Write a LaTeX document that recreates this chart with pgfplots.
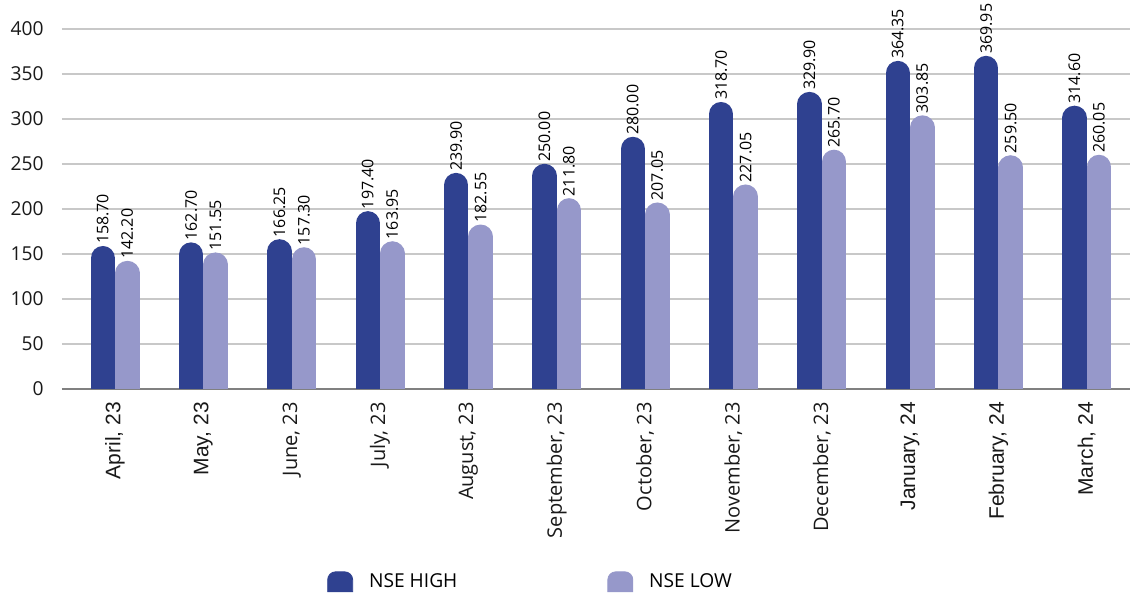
\documentclass[border=0pt]{standalone}
\usepackage{fontspec}
\setmainfont{Open Sans}
\newfontfamily\arlf{Liberation Sans}
\newcommand\arl{\arlf\fontsize{10.5}{12}\selectfont}
\usepackage{pgfplots}
\pgfplotsset{compat=1.18}
\usepackage{pgfplotstable}
\definecolor{hi}{RGB}{47,65,144}
\definecolor{lo}{RGB}{150,152,202}
\definecolor{gridc}{RGB}{200,200,200}
\pgfplotstableread{
x high low
0 158.70 142.20
1 162.70 151.55
2 166.25 157.30
3 197.40 163.95
4 239.90 182.55
5 250.00 211.80
6 280.00 207.05
7 318.70 227.05
8 329.90 265.70
9 364.35 303.85
10 369.95 259.50
11 314.60 260.05
}\data
\begin{document}
\begin{tikzpicture}
\begin{axis}[
  scale only axis, width=534pt, height=194.4pt,
  xmin=-0.6, xmax=11.49, ymin=0, ymax=432,
  ytick={0,50,...,400},
  xtick={0,...,11},
  xticklabels={{\arl April, 23},{\arl May, 23},{June, 23},{July, 23},{August, 23},{September, 23},{October, 23},{November, 23},{December, 23},{\arl January, 24},{\arl February, 24},{\arl March, 24}},
  axis lines*=left,
  y axis line style={draw=none},
  x axis line style={draw=black!50, line width=0.9pt},
  major tick length=0pt,
  ymajorgrids, grid style={draw=gridc, line width=0.75pt},
  tick label style={font=\fontsize{9.6}{11}\selectfont, text=black!90},
  /pgf/number format/assume math mode=true,
  yticklabel style={inner sep=0pt, xshift=-9pt},
  xticklabel style={font=\fontsize{10}{12}\selectfont, yshift=-6.5pt, rotate=90, anchor=east, inner sep=0pt},
  legend columns=2,
  legend style={at={(axis description cs:0.248,0)}, anchor=west, yshift=-96.5pt, draw=none, inner sep=0pt, font=\fontsize{9.6}{11}\selectfont,
    /tikz/every odd column/.append style={column sep=6pt},
    /tikz/every even column/.append style={column sep=73pt}},
  nodes near coords={\pgfmathprintnumber[fixed,fixed zerofill,precision=2]{\pgfplotspointmeta}},
  every node near coord/.append style={rotate=90, anchor=west, inner sep=1pt, font=\fontsize{8}{9}\selectfont, text=black},
]
\addplot[forget plot, ycomb, draw=hi, line width=12.25pt, line cap=round, xshift=-6.125pt, yshift=-6.125pt, mark=none] table[x=x,y=high]{\data};
\addplot[forget plot, ycomb, draw=lo, line width=12.25pt, line cap=round, xshift=6.125pt, yshift=-6.125pt, mark=none] table[x=x,y=low]{\data};
\addlegendimage{legend image code/.code={\fill[hi] (0pt,-5pt) -- (0pt,1pt) arc[start angle=180, end angle=90, radius=4pt] -- (8.5pt,5pt) arc[start angle=90, end angle=0, radius=4pt] -- (12.5pt,-5pt) -- cycle;}}
\addlegendentry{NSE HIGH}
\addlegendimage{legend image code/.code={\fill[lo] (0pt,-5pt) -- (0pt,1pt) arc[start angle=180, end angle=90, radius=4pt] -- (8.5pt,5pt) arc[start angle=90, end angle=0, radius=4pt] -- (12.5pt,-5pt) -- cycle;}}
\addlegendentry{NSE LOW}
\end{axis}
\pgfresetboundingbox
\path[use as bounding box] ([xshift=-31pt,yshift=-103pt]current axis.south west) rectangle (current axis.north east);
\end{tikzpicture}
\end{document}
